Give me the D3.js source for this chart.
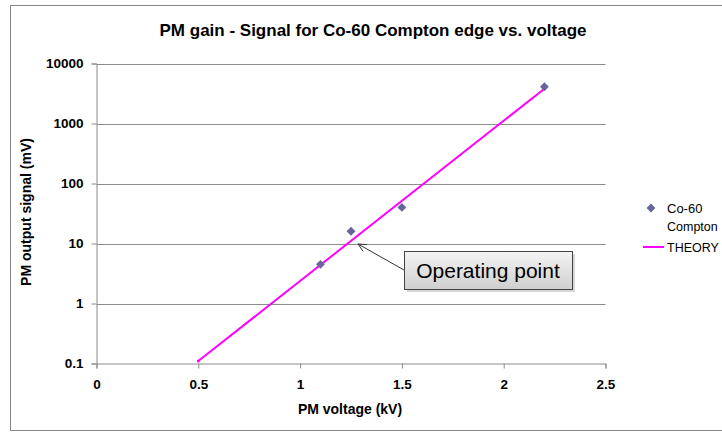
<!DOCTYPE html>
<html>
<head>
<meta charset="utf-8">
<script src="https://cdn.jsdelivr.net/npm/d3@7"></script>
<style>
  body { margin: 0; background: #fff; }
  text { font-family: "Liberation Sans", Arial, sans-serif; }
</style>
</head>
<body>
<svg id="chart" width="722" height="436"></svg>
<script>
// measured points (kV, mV)
const voltage = [1.1, 1.25, 1.5, 2.2];
const signal = [4.5, 16, 40, 4100];
// theory line end points
const theoryVoltage = [0.5, 2.2];
const theorySignal = [0.11, 3800];
const xTicks = [0, 0.5, 1, 1.5, 2, 2.5];
const yTicks = [0.1, 1, 10, 100, 1000, 10000];

const svg = d3.select("#chart");

// outer chart frame
svg.append("rect")
  .attr("x", 10.5).attr("y", 5.5)
  .attr("width", 740).attr("height", 425)
  .attr("fill", "#fff").attr("stroke", "#888").attr("stroke-width", 1);

const x = d3.scaleLinear().domain([0, 2.5]).range([96.5, 605.5]);
const y = d3.scaleLog().domain([0.1, 10000]).range([363.5, 63.5]);

// title
svg.append("text")
  .attr("x", 373).attr("y", 36)
  .attr("text-anchor", "middle")
  .attr("font-size", 17).attr("font-weight", "bold")
  .attr("fill", "#000")
  .text("PM gain - Signal for Co-60 Compton edge vs. voltage");

// gridlines
svg.append("g")
  .selectAll("line")
  .data(yTicks.slice(1))
  .join("line")
  .attr("x1", x(0)).attr("x2", x(2.5))
  .attr("y1", d => Math.round(y(d)) + 0.5).attr("y2", d => Math.round(y(d)) + 0.5)
  .attr("stroke", "#8c8c8c");

// y axis
const yAxis = svg.append("g")
  .attr("transform", `translate(${x(0)},0)`)
  .call(d3.axisLeft(y).tickValues(yTicks).tickFormat(d => d3.format("")(d)).tickSize(5).tickPadding(8));
yAxis.select(".domain").attr("stroke", "#8c8c8c");
yAxis.selectAll(".tick line").attr("stroke", "#8c8c8c");
yAxis.selectAll("text").attr("font-size", 13.5).attr("font-weight", "bold").attr("fill", "#000")
  .attr("font-family", "Liberation Sans, Arial, sans-serif");

// x axis
const xAxis = svg.append("g")
  .attr("transform", `translate(0,${y(0.1)})`)
  .call(d3.axisBottom(x).tickValues(xTicks).tickFormat(d => d).tickSize(5).tickPadding(11));
xAxis.select(".domain").attr("stroke", "#8c8c8c");
xAxis.selectAll(".tick line").attr("stroke", "#8c8c8c");
xAxis.selectAll("text").attr("font-size", 13.5).attr("font-weight", "bold").attr("fill", "#000")
  .attr("font-family", "Liberation Sans, Arial, sans-serif");

// axis titles
svg.append("text")
  .attr("x", 350).attr("y", 414)
  .attr("text-anchor", "middle")
  .attr("font-size", 14).attr("font-weight", "bold")
  .text("PM voltage (kV)");
svg.append("text")
  .attr("transform", "translate(31,212) rotate(-90)")
  .attr("text-anchor", "middle")
  .attr("font-size", 14).attr("font-weight", "bold")
  .text("PM output signal (mV)");

// theory line
const theory = theoryVoltage.map((v, i) => [v, theorySignal[i]]);
svg.append("path")
  .datum(theory)
  .attr("d", d3.line().x(d => x(d[0])).y(d => y(d[1])))
  .attr("fill", "none").attr("stroke", "#ff00ff").attr("stroke-width", 2);
svg.append("g").selectAll("circle")
  .data(theory)
  .join("circle")
  .attr("cx", d => x(d[0])).attr("cy", d => y(d[1]))
  .attr("r", 1.5).attr("fill", "#ff00ff");

// measured points
const diamond = d3.symbol().type(d3.symbolDiamond2).size(50);
svg.append("g").selectAll("path")
  .data(voltage.map((v, i) => [v, signal[i]]))
  .join("path")
  .attr("d", diamond)
  .attr("transform", d => `translate(${x(d[0])},${y(d[1])})`)
  .attr("fill", "#66669a");

// annotation
const defs = svg.append("defs");
const grad = defs.append("linearGradient").attr("id", "boxGrad")
  .attr("x1", 0).attr("y1", 0).attr("x2", 0).attr("y2", 1);
grad.append("stop").attr("offset", "0%").attr("stop-color", "#f4f4f4");
grad.append("stop").attr("offset", "100%").attr("stop-color", "#cfcfcf");

svg.append("rect")
  .attr("x", 407).attr("y", 254).attr("width", 168).attr("height", 38)
  .attr("fill", "#bbb").attr("opacity", 0.6);
svg.append("rect")
  .attr("x", 404.5).attr("y", 251.5).attr("width", 168).attr("height", 38)
  .attr("fill", "url(#boxGrad)").attr("stroke", "#444");
svg.append("text")
  .attr("x", 488).attr("y", 278)
  .attr("text-anchor", "middle")
  .attr("font-size", 21).attr("fill", "#000")
  .text("Operating point");

const tip = [358, 244], tail = [404, 270];
svg.append("line")
  .attr("x1", tail[0]).attr("y1", tail[1]).attr("x2", tip[0]).attr("y2", tip[1])
  .attr("stroke", "#333").attr("stroke-width", 1);
const ang = Math.atan2(tail[1] - tip[1], tail[0] - tip[0]);
const head = [ang - 0.45, ang + 0.45].map(a => [tip[0] + 9 * Math.cos(a), tip[1] + 9 * Math.sin(a)]);
svg.append("path")
  .attr("d", `M${head[0]}L${tip}L${head[1]}`)
  .attr("fill", "none").attr("stroke", "#333").attr("stroke-width", 1);

// legend
const lg = svg.append("g");
lg.append("path").attr("d", diamond).attr("transform", "translate(651,208)").attr("fill", "#66669a");
lg.append("text").attr("x", 667).attr("y", 213).attr("font-size", 13).text("Co-60");
lg.append("text").attr("x", 667).attr("y", 231).attr("font-size", 12.5).text("Compton");
lg.append("line").attr("x1", 643).attr("x2", 664).attr("y1", 247).attr("y2", 247)
  .attr("stroke", "#ff00ff").attr("stroke-width", 2);
lg.append("text").attr("x", 667).attr("y", 252).attr("font-size", 12.5).text("THEORY");
</script>
</body>
</html>
